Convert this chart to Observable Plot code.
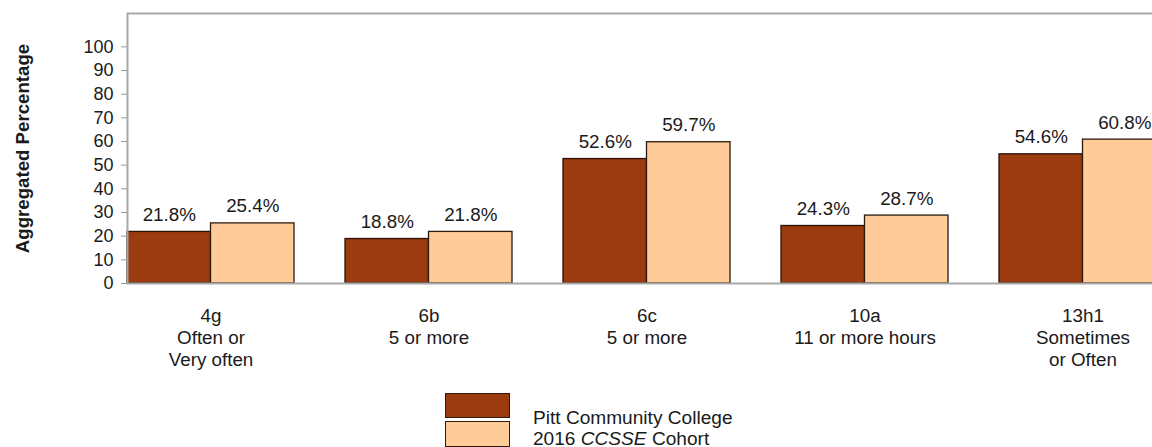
<!DOCTYPE html>
<html>
<head>
<meta charset="utf-8">
<script src="https://cdn.jsdelivr.net/npm/d3@7"></script>
<script src="https://cdn.jsdelivr.net/npm/@observablehq/plot@0.6"></script>
<style>
  html, body { margin: 0; padding: 0; background: #fff; overflow: hidden; }
  #wrap { position: relative; width: 1152px; height: 447px; font-family: "Liberation Sans", Arial, sans-serif; color: #1a1a1a; }
  #legend { position: absolute; left: 445px; top: 393px; }
  .sw { position: absolute; left: 0; width: 65px; box-sizing: border-box; border: 1px solid #2a1a10; }
  .lt { position: absolute; left: 88px; font-size: 19.1px; line-height: 21.4px; white-space: nowrap; }
</style>
</head>
<body>
<div id="wrap"><div id="chart"></div>
<div id="legend"></div>
</div>
<script>
const codes = ["4g", "6b", "6c", "10a", "13h1"];
const descriptors = ["Often or\nVery often", "5 or more", "5 or more", "11 or more hours", "Sometimes\nor Often"];
const pitt = [21.8, 18.8, 52.6, 24.3, 54.6];
const cohort = [25.4, 21.8, 59.7, 28.7, 60.8];
const seriesNames = ["Pitt Community College", "2016 CCSSE Cohort"];
const colors = ["#9C3A10", "#FFCC99"];
const yTicks = [0, 10, 20, 30, 40, 50, 60, 70, 80, 90, 100];

const rows = codes.map((c, i) => ({code: c, label: c + "\n" + descriptors[i], pitt: pitt[i], cohort: cohort[i]}));
const fmt = v => d3.format(".1f")(v) + "%";
const half = 83.5;
const font = "Liberation Sans, Arial, sans-serif";

const chart = Plot.plot({
  width: 1152,
  height: 375,
  marginTop: 13,
  marginBottom: 92,
  marginLeft: 127,
  marginRight: 0,
  style: {fontFamily: font, color: "#1a1a1a", background: "white"},
  x: {domain: codes, range: [127, 1166], paddingInner: 51 / 218, paddingOuter: 0, align: 0, round: false, axis: null},
  y: {domain: [0, 114.1], axis: null},
  marks: [
    Plot.barY(rows, {x: "code", y: "pitt", fill: colors[0], stroke: "#2a1208", strokeWidth: 1.3, insetRight: half}),
    Plot.barY(rows, {x: "code", y: "cohort", fill: colors[1], stroke: "#2a1a10", strokeWidth: 1.3, insetLeft: half}),
    Plot.text(rows, {x: "code", y: "pitt", text: d => fmt(d.pitt), dx: -half / 2, dy: -11, lineAnchor: "bottom", fontSize: 18.8, fill: "#1a1a1a"}),
    Plot.text(rows, {x: "code", y: "cohort", text: d => fmt(d.cohort), dx: half / 2, dy: -11, lineAnchor: "bottom", fontSize: 18.8, fill: "#1a1a1a"}),
    Plot.text(rows, {x: "code", text: "label", frameAnchor: "bottom", lineAnchor: "top", dy: 23, lineHeight: 1.175, fontSize: 18.8, fill: "#1a1a1a"}),
    Plot.axisY({ticks: yTicks, tickSize: 6, tickPadding: 8, stroke: "#999", fill: "#1a1a1a", fontSize: 18, label: null}),
    Plot.frame({stroke: "#a8a8a8", strokeWidth: 2, insetRight: -12}),
    Plot.text(["Aggregated Percentage"], {frameAnchor: "left", textAnchor: "middle", rotate: -90, dx: -104, fontWeight: "bold", fontSize: 18.67, fill: "#1a1a1a"})
  ]
});
document.getElementById("chart").appendChild(chart);

const legend = document.getElementById("legend");
legend.innerHTML =
  `<div class="sw" style="top:0px;height:25px;background:${colors[0]}"></div>` +
  `<div class="sw" style="top:28px;height:26px;background:${colors[1]}"></div>` +
  `<div class="lt" style="top:14px">${seriesNames[0]}</div>` +
  `<div class="lt" style="top:35.4px">2016 <i>CCSSE</i> Cohort</div>`;
</script>
</body>
</html>
